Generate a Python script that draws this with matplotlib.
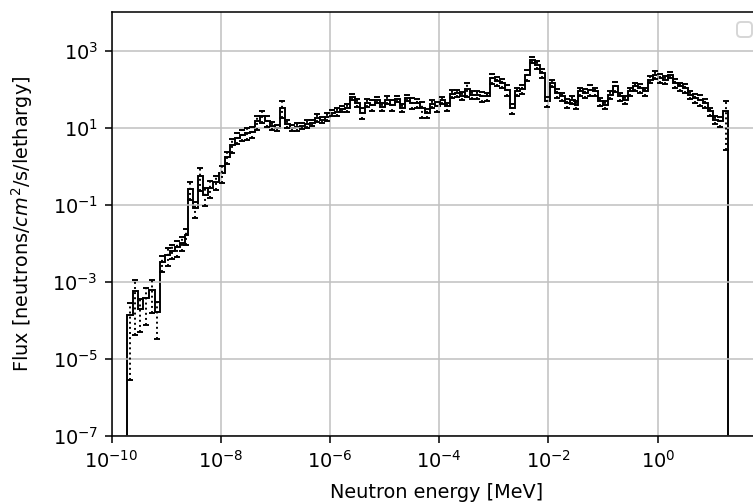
import matplotlib

matplotlib.use("Agg")
import matplotlib.pyplot as plt
import numpy as np

# ─── data (energy in MeV, flux per unit lethargy) ────
energy_edges = [
    1.92e-10, 2.47e-10, 3.05e-10, 3.77e-10, 4.86e-10, 6.25e-10, 7.72e-10, 9.53e-10,
    1.18e-9, 1.45e-9, 1.79e-9, 2.21e-9, 2.51e-9, 3.10e-9, 3.83e-9, 4.72e-9,
    5.83e-9, 7.20e-9, 9.27e-9, 1.19e-8, 1.47e-8, 1.82e-8, 2.25e-8, 2.77e-8,
    3.42e-8, 4.22e-8, 5.21e-8, 6.44e-8, 7.95e-8,
    9.81e-8, 1.21e-7, 1.50e-7, 1.85e-7, 2.28e-7, 2.81e-7, 3.47e-7, 4.29e-7,
    5.29e-7, 6.53e-7, 8.06e-7, 9.96e-7, 1.23e-6, 1.52e-6, 1.87e-6, 2.31e-6,
    2.85e-6, 3.52e-6, 4.35e-6, 5.37e-6, 6.63e-6, 8.18e-6, 1.01e-5, 1.25e-5,
    1.54e-5, 1.90e-5, 2.35e-5, 2.90e-5, 3.58e-5, 4.41e-5, 5.45e-5, 6.73e-5,
    8.31e-5, 1.03e-4, 1.27e-4, 1.56e-4, 1.93e-4, 2.38e-4, 2.94e-4, 3.63e-4,
    4.48e-4, 5.53e-4, 6.83e-4, 8.43e-4, 1.04e-3, 1.28e-3, 1.59e-3, 1.96e-3,
    2.42e-3, 2.98e-3, 3.68e-3, 4.55e-3, 5.61e-3, 6.93e-3, 8.55e-3, 1.06e-2,
    1.30e-2, 1.61e-2, 1.99e-2, 2.45e-2, 3.03e-2,
    3.43e-2, 4.24e-2, 5.23e-2, 6.46e-2, 7.97e-2, 9.85e-2, 0.122, 0.150,
    0.185, 0.229, 0.282, 0.349, 0.430, 0.531, 0.656, 0.809, 1.0, 1.23, 1.52,
    1.88, 2.32, 2.86, 3.54, 4.37, 5.39, 6.65, 8.21, 10.1, 12.5, 15.5, 19.6,
]

flux = [
    # thermal
    1.39e-4, 5.83e-4, 1.99e-4, 3.84e-4, 6.19e-4, 1.66e-4, 3.30e-3, 5.02e-3,
    6.38e-3, 8.11e-3, 1.03e-2, 1.66e-2, 0.261, 8.36e-2, 0.566, 0.182,
    0.277, 0.395, 0.678, 1.77, 3.62, 5.50, 6.58, 7.41, 7.87, 14.6, 20.5, 15.2,
    # epithermal
    11.3, 10.0, 33.0, 12.7, 10.0, 10.6, 11.3, 12.7, 13.5, 18.2, 16.1, 19.3,
    24.5, 26.1, 31.2, 33.0, 63.8, 44.6, 24.5, 44.6, 39.6, 53.4, 35.1, 53.4,
    39.6, 56.7, 33.0, 60.1, 44.6, 43.8,
    32.5, 24.1, 42.0, 35.7, 51.2, 35.7, 76.4, 79.6, 67.8, 101, 71.9, 71.9,
    65.0, 65.0, 195, 160, 145, 97.0, 32.5, 87.7, 101, 238, 583, 433,
    263, 48.2, 145, 79.6, 65.0, 43.8,
    # fast
    53.4, 39.6, 87.7, 79.6, 97.0, 87.7, 48.2, 39.6, 71.9, 118, 65.0, 53.4,
    87.7, 118, 107, 87.7, 177, 238, 195, 177, 238, 145, 118, 107,
    71.9, 59.0, 53.4, 43.8, 26.5, 16.1, 14.6, 26.5,
]

# relative statistical error per group
rel_err = [
    0.98, 0.93, 0.75, 0.8, 0.75, 0.8, 0.45, 0.5, 0.4, 0.45, 0.4, 0.45,
    0.5, 0.45, 0.6, 0.5, 0.45, 0.4, 0.45, 0.35, 0.4, 0.3, 0.3, 0.35,
    0.3, 0.4, 0.35, 0.3,
    0.25, 0.2, 0.45, 0.25, 0.2, 0.25, 0.2, 0.25, 0.2, 0.25, 0.2, 0.25,
    0.2, 0.25, 0.2, 0.25, 0.18, 0.25, 0.3, 0.25, 0.3, 0.2, 0.25, 0.25,
    0.3, 0.2, 0.25, 0.2, 0.3, 0.25,
    0.45, 0.25, 0.25, 0.3, 0.2, 0.25, 0.25, 0.2, 0.25, 0.4, 0.25, 0.25,
    0.3, 0.25, 0.3, 0.25, 0.25, 0.3, 0.3, 0.25, 0.25, 0.3, 0.2, 0.25,
    0.25, 0.3, 0.2, 0.25, 0.25, 0.25,
    0.25, 0.25, 0.25, 0.25, 0.3, 0.25, 0.25, 0.25, 0.25, 0.3, 0.25, 0.25,
    0.25, 0.25, 0.25, 0.25, 0.2, 0.25, 0.25, 0.25, 0.2, 0.25, 0.25, 0.25,
    0.25, 0.25, 0.3, 0.25, 0.25, 0.25, 0.3, 0.9,
]

# ─── figure ────────────────────────────────────────────────────────────────
DPI = 139
fig = plt.figure(figsize=(753 / DPI, 504 / DPI), dpi=DPI)
# axes deliberately runs past the right edge, like the cropped original
ax = fig.add_axes([111.5 / 753, 68 / 504, 650.5 / 753, 424 / 504])

edges = np.asarray(energy_edges)
vals = np.asarray(flux)
mids = np.sqrt(edges[:-1] * edges[1:])
yerr = vals * np.asarray(rel_err)

ax.stairs(vals, edges, color="black", linewidth=1.0)
eb = ax.errorbar(mids, vals, yerr=yerr, fmt="none", ecolor="black",
                 elinewidth=1.0, capsize=1.5)
eb.lines[2][0].set_linestyle(":")

ax.set_xscale("log")
ax.set_yscale("log")
ax.set_xlim(1e-10, 81)
ax.set_ylim(1e-7, 1e4)
ax.grid(True, color="#c0c0c0")
ax.set_xlabel("Neutron energy [MeV]", labelpad=6)
ax.set_ylabel(r"Flux [neutrons/$cm^2$/s/lethargy]", labelpad=9)
ax.legend(handles=[], loc="upper right")

fig.savefig("out.png", dpi=DPI)
